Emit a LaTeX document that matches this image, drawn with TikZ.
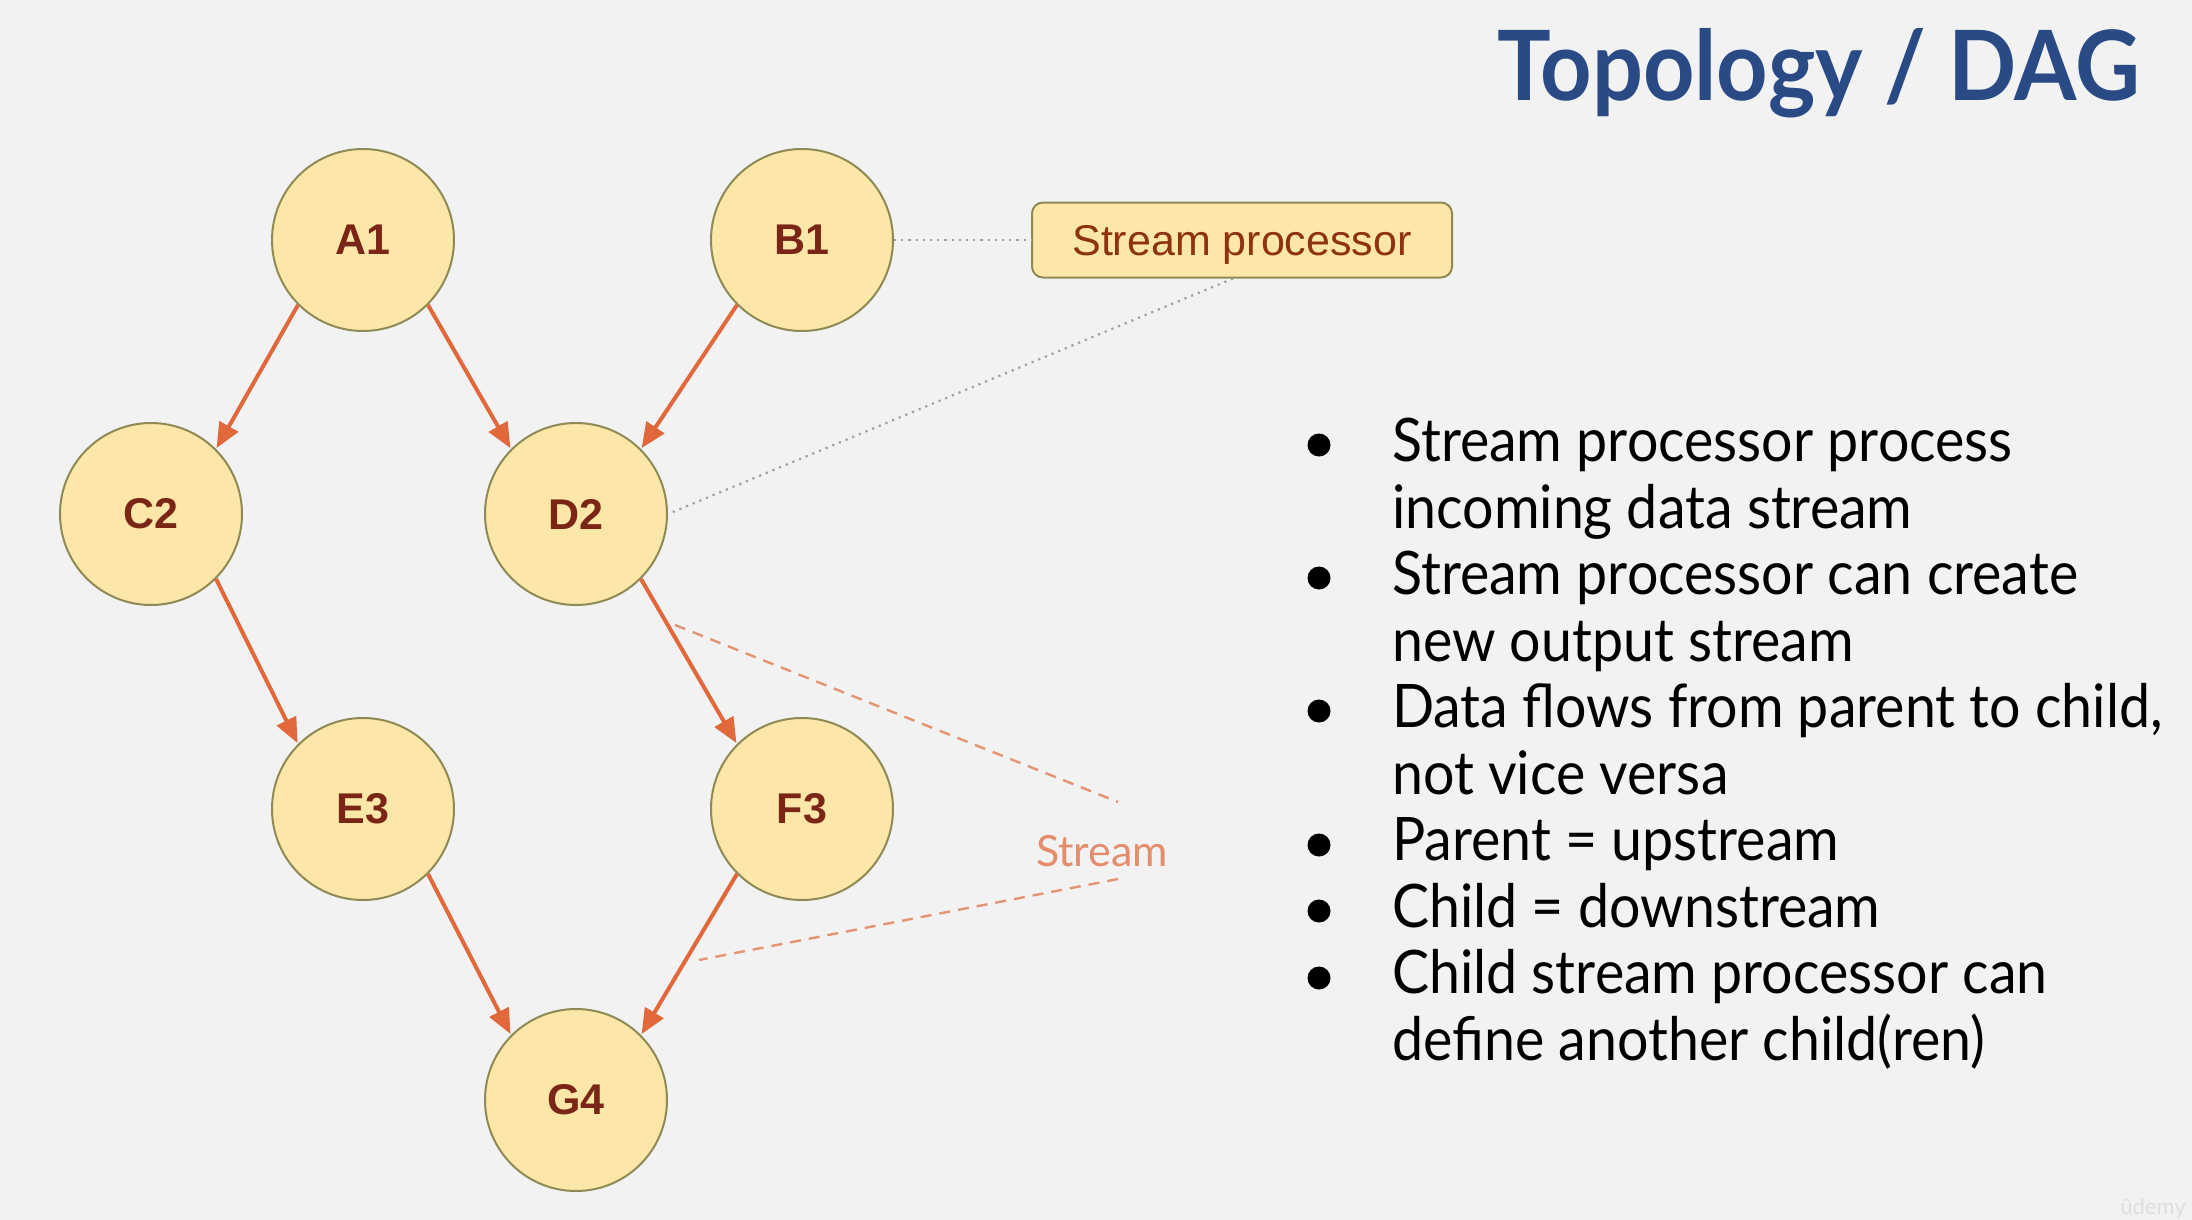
\documentclass[tikz,border=0pt]{standalone}
\usepackage{fontspec}
\setmainfont{Lato}[FakeStretch=0.925]
\newfontfamily\latoplain{Lato}
\newfontfamily\arialfont{Liberation Sans}
\usetikzlibrary{arrows.meta}

\definecolor{bgcol}{HTML}{F2F2F2}
\definecolor{nodefill}{HTML}{FCE6A8}
\definecolor{nodeline}{HTML}{8F8A55}
\definecolor{labelcol}{HTML}{7A2515}
\definecolor{arrowcol}{HTML}{E0683A}
\definecolor{streamcol}{HTML}{E39472}
\definecolor{titlecol}{HTML}{2A4A86}
\definecolor{dotcol}{HTML}{A0A0A0}
\definecolor{markcol}{HTML}{DEDEDE}

\tikzset{
  proc/.style={circle, draw=nodeline, fill=nodefill, line width=2pt,
    minimum size=182pt, inner sep=0pt, text=labelcol,
    font=\arialfont\bfseries\fontsize{43}{50}\selectfont},
  procbox/.style={rectangle, rounded corners=11pt, draw=nodeline, fill=nodefill,
    line width=2pt, minimum width=420pt, minimum height=75pt, inner sep=0pt,
    text height=31pt, text depth=0pt,
    text=labelcol!85!orange, font=\arialfont\fontsize{43}{50}\selectfont},
  flow/.style={draw=arrowcol, line width=4pt,
    -{Triangle[length=25pt,width=21pt]}, shorten >=1pt},
  hint/.style={draw=dotcol, line width=2.2pt, dash pattern=on 2.2pt off 5pt},
  streamline/.style={draw=streamcol, line width=2.4pt, dash pattern=on 11pt off 8pt},
  bullettext/.style={anchor=base west, inner sep=0pt,
    font=\fontsize{60}{72}\selectfont, text=black},
  bulletdot/.style={circle, fill=black, minimum size=23pt, inner sep=0pt}
}

\begin{document}
\begin{tikzpicture}[x=1pt,y=-1pt]
  \useasboundingbox[fill=bgcol] (0,0) rectangle (2192,1220);

  % title
  \node[anchor=base east, inner sep=0pt, text=titlecol,
        font=\bfseries\fontsize{97}{116}\selectfont] (title) at (2140,101) {Topology / DAG};

  % processors
  \node[proc] (A1) at (363,240) {A1};
  \node[proc] (B1) at (802,240) {B1};
  \node[proc] (C2) at (151,514) {C2};
  \node[proc] (D2) at (576,514) {D2};
  \node[proc] (E3) at (363,809) {E3};
  \node[proc] (F3) at (802,809) {F3};
  \node[proc] (G4) at (576,1100) {G4};

  % data flow
  \draw[flow] (A1.south west) -- (C2.north east);
  \draw[flow] (A1.south east) -- (D2.north west);
  \draw[flow] (B1.south west) -- (D2.north east);
  \draw[flow] (C2.south east) -- (E3.north west);
  \draw[flow] (D2.south east) -- (F3.north west);
  \draw[flow] (E3.south east) -- (G4.north west);
  \draw[flow] (F3.south west) -- (G4.north east);

  % stream processor callout
  \node[procbox] (sp) at (1242,240) {Stream processor};
  \draw[hint] (B1.east) -- (sp.west);
  \draw[hint] ([xshift=-9pt]sp.south) -- (D2.east);

  % stream callout
  \node[inner sep=0pt, text=streamcol!95!red, font=\latoplain\fontsize{43}{50}\selectfont]
       (streamlbl) at (1102,851) {Stream};
  \coordinate (s1a) at (675,625);
  \coordinate (s1b) at (1118,802);
  \coordinate (s2a) at (699,960);
  \coordinate (s2b) at (1118,879);
  \draw[streamline] (s1a) -- (s1b);
  \draw[streamline] (s2b) -- (s2a);

  % bullet list
  \node[bullettext] (t1) at (1392,461) {Stream processor process};
  \node[bullettext] (t2) at (1392,528) {incoming data stream};
  \node[bullettext] (t3) at (1392,594) {Stream processor can create};
  \node[bullettext] (t4) at (1392,661) {new output stream};
  \node[bullettext] (t5) at (1392,727) {Data flows from parent to child,};
  \node[bullettext] (t6) at (1392,794) {not vice versa};
  \node[bullettext] (t7) at (1392,860) {Parent = upstream};
  \node[bullettext] (t8) at (1392,927) {Child = downstream};
  \node[bullettext] (t9) at (1392,993) {Child stream processor can};
  \node[bullettext] (t10) at (1392,1060) {define another child(ren)};

  \node[bulletdot] (d1) at (1319,445) {};
  \node[bulletdot] (d3) at (1319,578) {};
  \node[bulletdot] (d5) at (1319,711) {};
  \node[bulletdot] (d7) at (1319,845) {};
  \node[bulletdot] (d8) at (1319,911) {};
  \node[bulletdot] (d9) at (1319,978) {};

  % corner mark
  \node[anchor=base east, inner sep=0pt, text=markcol,
        font=\latoplain\fontsize{22}{26}\selectfont] (mark) at (2186,1214) {ûdemy};
\end{tikzpicture}
\end{document}
